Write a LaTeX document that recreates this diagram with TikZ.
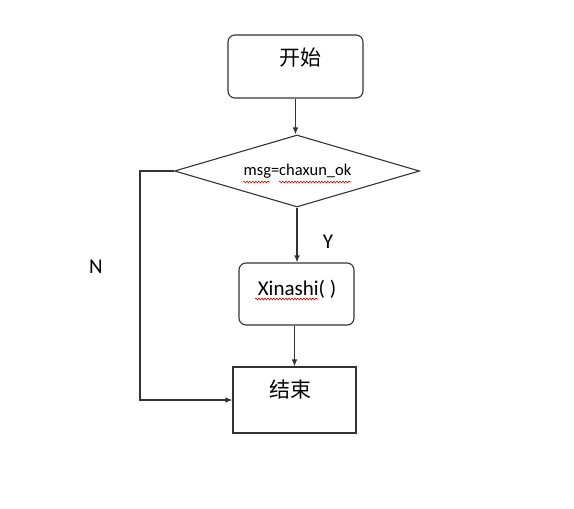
\documentclass[tikz,border=0pt]{standalone}
\usepackage{fontspec}
\setmainfont{Carlito}
\newfontfamily\cjk{Noto Sans CJK SC}
\usetikzlibrary{arrows.meta, shapes.geometric, decorations.pathmorphing}

\begin{document}
\begin{tikzpicture}[x=1pt, y=-1pt,
        line/.style={draw=black!80, line width=1.1pt},
        arr/.style={line, arrows=-{Latex[length=7pt, width=5.5pt]}},
        roundbox/.style={line, rectangle, rounded corners=7pt, inner sep=0pt},
        plainbox/.style={line, rectangle, inner sep=0pt},
        decision/.style={line, diamond, aspect=3.4, inner sep=0pt, minimum width=245pt, minimum height=72pt},
        bigtxt/.style={font=\fontsize{21pt}{24pt}\selectfont, inner sep=0pt},
        cntxt/.style={font=\cjk\fontsize{21pt}{24pt}\selectfont, inner sep=0pt},
        smalltxt/.style={font=\fontsize{16.5pt}{19pt}\selectfont, inner sep=0pt},
        spell/.style={red!85!black, line width=0.6pt, decorate, decoration={snake, segment length=3pt, amplitude=0.9pt}}]
            \useasboundingbox (0,0) rectangle (574,509);

            % boxes
            \node[roundbox, minimum width=135pt, minimum height=63pt] (start) at (295.5,66.5) {};
            \node[decision] (dec) at (297,171) {};
            \node[roundbox, minimum width=115pt, minimum height=62pt] (xin) at (296.5,294) {};
            \node[plainbox, minimum width=123pt, minimum height=66pt] (stop) at (294.5,400) {};

            % texts
            \node[cntxt] (starttxt) at (300,58) {开始};
            \node[smalltxt] (dectxt) at (297.5,171) {msg=chaxun\_ok};
            \node[bigtxt] (xintxt) at (297,289) {Xinashi( )};
            \node[cntxt] (stoptxt) at (290,390) {结束};
            \node[bigtxt] (ylbl) at (328,242) {Y};
            \node[bigtxt] (nlbl) at (96,267) {N};

            % spell check marks
            \draw[spell] (243,182) -- (270,182);
            \draw[spell] (279,182) -- (351,182);
            \draw[spell] (255,299) -- (318,299);

            % arrows
            \coordinate (nbend) at (140,171);
            \draw[arr] (start.south) -- (start.south |- dec.north);
            \draw[arr] (dec.south) -- (dec.south |- xin.north);
            \draw[arr] (stop.north |- xin.south) -- (stop.north);
            \draw[arr] (dec.west) -- (nbend) |- (stop.west);
        \end{tikzpicture}
\end{document}
